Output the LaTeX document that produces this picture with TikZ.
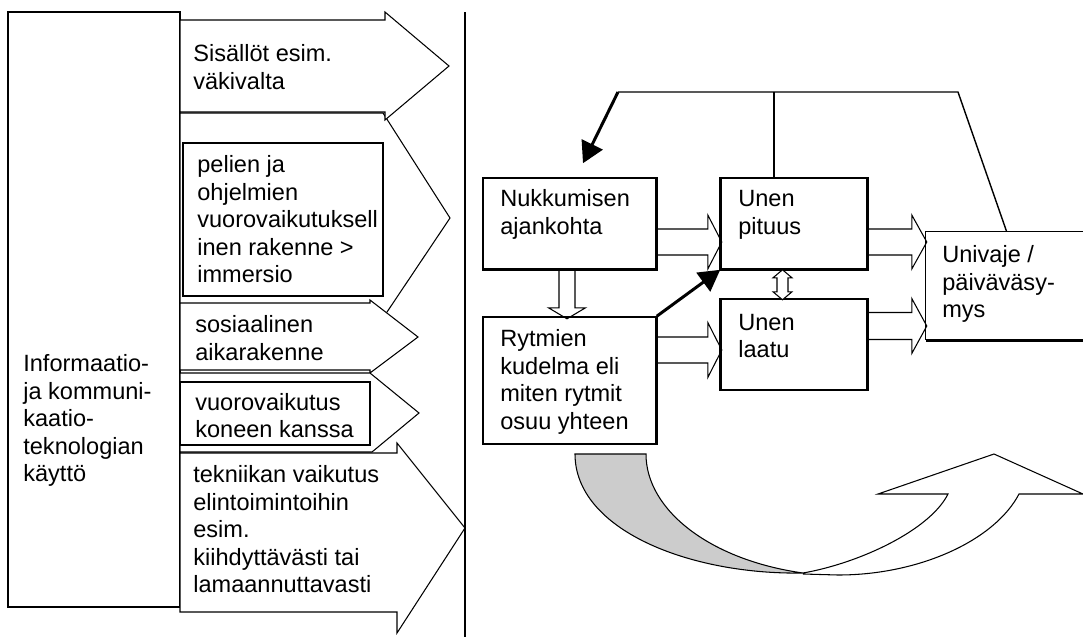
\documentclass[tikz,border=0pt]{standalone}
\usepackage{fontspec}
\setmainfont{Liberation Sans}
\usetikzlibrary{arrows.meta,calc,fit}
\definecolor{shade}{RGB}{204,204,204}

\tikzset{
  pics/blockarrow/.style args={#1/#2/#3/#4}{code={
    \draw[blk] (0,-#2) -- (#1-#4,-#2) -- (#1-#4,-#3) -- (#1,0)
      -- (#1-#4,#3) -- (#1-#4,#2) -- (0,#2);
  }},
  pics/dblarrow/.style args={#1/#2/#3/#4}{code={
    \draw[blk,fill=white] (0,0) -- (#4,-#3) -- (#4,-#2) -- (#1-#4,-#2) -- (#1-#4,-#3) -- (#1,0)
      -- (#1-#4,#3) -- (#1-#4,#2) -- (#4,#2) -- (#4,#3) -- cycle;
  }},
}

\begin{document}
\begin{tikzpicture}[x=0.02cm,y=-0.02cm,
    % base of a node with several lines = baseline of its last line
    txt/.style={font=\fontsize{13.4}{15.6}\selectfont,align=left,inner sep=0pt,anchor=base west},
    box/.style={draw,line width=0.9pt,inner sep=0pt},
    frame/.style={draw,line width=0.7pt,inner sep=0pt},
    blk/.style={line width=0.6pt},
    hardside/.style={line width=1.7pt},
    heavy/.style={line width=1.7pt,-{Triangle[length=0.42cm,width=0.46cm]}}]
  \useasboundingbox (0,0) rectangle (1083,637);

  % ICT use and its block arrows
  \node[frame,fit={(8,12) (180,607)}] (ict) {};
  \node[txt] (ict-t) at (23,481.6) {Informaatio-\\ja kommuni-\\kaatio-\\teknologian\\käyttö};

  \draw[blk,fill=white] (180,113) -- (383,113) -- (450,218) -- (383,318) -- (180,318) -- cycle;
  \draw[blk] (183,143) rectangle (383,296);
  \draw[blk,fill=white] (180,20) -- (385,20) -- (385,12) -- (449,66) -- (385,120) -- (385,112) -- (180,112) -- cycle;
  \draw[blk,fill=white] (180,303) -- (370,303) -- (370,300) -- (418,337) -- (370,373) -- (370,370) -- (180,370) -- cycle;
  \draw[blk,fill=white] (180,373) -- (370,373) -- (419,413) -- (372,452) -- (180,452) -- cycle;
  \draw[blk] (180,382) rectangle (370,445);
  \draw[blk,fill=white] (180,453) -- (397,453) -- (397,443) -- (465,528) -- (397,633) -- (397,612) -- (180,612) -- cycle;

  \node[txt] (a1) at (193,89.4) {Sisällöt esim.\\väkivalta};
  \node[txt] (a2) at (197,282.6) {pelien ja\\ohjelmien\\vuorovaikutuksell\\inen rakenne >\\immersio};
  \node[txt] (a3) at (195,360.4) {sosiaalinen\\aikarakenne};
  \node[txt] (a4) at (195,437.4) {vuorovaikutus\\koneen kanssa};
  \node[txt] (a5) at (193,592.6) {tekniikan vaikutus\\elintoimintoihin\\esim.\\kiihdyttävästi tai\\lamaannuttavasti};

  \draw[line width=0.7pt] (465,12) -- (465,637);

  % sleep model
  \node[box,fit={(483,178) (656,269)}] (nukk) {};
  \node[box,fit={(721,178) (867,269)}] (pituus) {};
  \node[box,fit={(483,317) (656,444)}] (rytmi) {};
  \node[box,fit={(721,299) (867,390)}] (laatu) {};
  \node[inner sep=0pt,fit={(926,232) (1084,340)}] (univaje) {};
  \draw[line width=0.9pt] (univaje.north east) -- (univaje.north west) -- (univaje.south west);
  \draw[hardside] (univaje.south west) -- (univaje.south east);
  \draw[hardside] (nukk.north east) -- (nukk.south east) -- (nukk.south west);
  \draw[hardside] (pituus.north west) -- (pituus.south west) -- (pituus.south east) -- (pituus.north east);
  \draw[hardside] (laatu.north west) -- (laatu.south west);
  \draw[hardside] (laatu.north east) -- (laatu.south east);
  \draw[hardside] (rytmi.north east) -- (rytmi.south east);

  \node[txt] (nukk-t) at (500,234.4) {Nukkumisen\\ajankohta};
  \node[txt] (pituus-t) at (738,234.4) {Unen\\pituus};
  \node[txt] (rytmi-t) at (500,429.2) {Rytmien\\kudelma eli\\miten rytmit\\osuu yhteen};
  \node[txt] (laatu-t) at (738,357.4) {Unen\\laatu};
  \node[txt] (univaje-t) at (942,317.8) {Univaje /\\päiväväsy-\\mys};

  \pic at (nukk.east |- 0,242) {blockarrow=65/13/27/14};
  \pic at (pituus.east |- 0,242) {blockarrow=59/13/27/15};
  \pic at (rytmi.east |- 0,350) {blockarrow=65/13/27.5/14};
  \pic at (laatu.east |- 0,326) {blockarrow=59/13.5/27.5/15};
  \pic[rotate=-90] at (567,0 |- nukk.south) {blockarrow=49/8/18.5/11};
  \pic[rotate=-90] at (782.5,0 |- pituus.south) {dblarrow=30/5.5/9.5/8};

  \coordinate (fbL) at (618,92);
  \coordinate (fbR) at (958,92);
  \draw[line width=0.8pt] ($(univaje.north west)+(81,0)$) -- (fbR) -- (fbL);
  \draw[line width=0.8pt] (pituus.north -| 774,0) -- (fbL -| 774,0);
  \draw[heavy] (fbL) -- ($(nukk.north)+(13.5,-14)$);
  \draw[heavy] (rytmi.north east) -- (pituus.south west);

  % turning arrow
  \draw[blk,fill=shade] (575,454) -- (646,454) .. controls (646,510) and (710,560) .. (803,573)
    .. controls (690,575) and (575,530) .. (575,454) -- cycle;
  \draw[blk] (803,573) .. controls (860,563) and (930,530) .. (948,494) -- (878,494) -- (994,454)
    -- (1083,494) -- (1019,494) .. controls (995,540) and (920,575) .. (838,575) -- (803,574);
\end{tikzpicture}
\end{document}
